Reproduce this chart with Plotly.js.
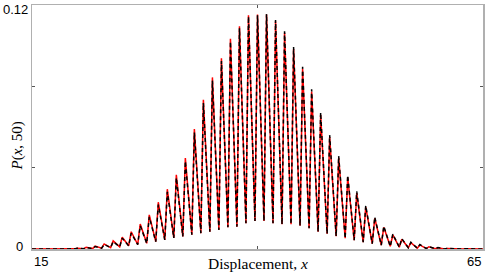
<!DOCTYPE html>
<html>
<head>
<meta charset="utf-8">
<script src="https://cdn.plot.ly/plotly-3.0.1.min.js"></script>
<style>html,body{margin:0;padding:0;background:#fff;}#chart{width:497px;height:272px;}</style>
</head>
<body>
<div id="chart"></div>
<script>
// integer displacement sites
var sites = [15,16,17,18,19,20,21,22,23,24,25,26,27,28,29,30,31,32,33,34,35,36,37,38,39,40,
             41,42,43,44,45,46,47,48,49,50,51,52,53,54,55,56,57,58,59,60,61,62,63,64,65];
// peak values at each site (red, solid)
var redPeaks = [0.00002,0.00003,0.00005,0.0001,0.0002,0.0004,0.0008,0.0014,0.0025,0.0040,
                0.0058,0.0085,0.0123,0.0168,0.0230,0.0294,0.0365,0.0447,0.0590,0.0734,
                0.0844,0.0938,0.1034,0.1096,0.1150,0.1153,0.1153,0.1120,0.1063,0.0984,
                0.0886,0.0775,0.0660,0.0550,0.0447,0.0353,0.0275,0.0206,0.0151,0.0107,
                0.0069,0.0048,0.0031,0.0020,0.0011,0.0006,0.0003,0.00015,0.00008,0.00004,0.00002];
// valley values following each site (red)
var redValleys = [0.00001,0.00001,0.00002,0.00004,0.00007,0.0001,0.0002,0.0004,0.0007,0.0011,
                  0.0016,0.0022,0.0028,0.0036,0.0045,0.0054,0.0062,0.0070,0.0078,0.0085,
                  0.0094,0.0107,0.0110,0.0127,0.0138,0.0138,0.0127,0.0122,0.0122,0.0115,
                  0.0102,0.0085,0.0075,0.0063,0.0053,0.0043,0.0034,0.0026,0.0019,0.0013,
                  0.0009,0.0006,0.0004,0.0002,0.0001,0.00006,0.00003,0.00002,0.00001,0.00001];
// black dashed comparison
var blackPeaks = [0.00002,0.00003,0.00005,0.0001,0.0002,0.0004,0.0007,0.0012,0.0022,0.0036,
                  0.0053,0.0078,0.0114,0.0158,0.0218,0.0281,0.0350,0.0432,0.0573,0.0718,
                  0.0828,0.0924,0.1020,0.1086,0.1143,0.1150,0.1156,0.1126,0.1071,0.0993,
                  0.0896,0.0786,0.0671,0.0561,0.0457,0.0362,0.0283,0.0213,0.0157,0.0112,
                  0.0073,0.0051,0.0033,0.0022,0.0012,0.0007,0.0003,0.00017,0.00009,0.00004,0.00002];
var blackValleys = redValleys;
var valleyOffset = 0.72;

function series(peaks, valleys) {
  var xs = [], ys = [];
  for (var i = 0; i < sites.length; i++) {
    xs.push(sites[i]); ys.push(peaks[i]);
    if (i < valleys.length) { xs.push(sites[i] + valleyOffset); ys.push(valleys[i]); }
  }
  return {x: xs, y: ys};
}
var r = series(redPeaks, redValleys);
var b = series(blackPeaks, blackValleys);

var traces = [
  {x: r.x, y: r.y, mode: 'lines', line: {color: '#ff0000', width: 1.5}, hoverinfo: 'skip'},
  {x: b.x, y: b.y, mode: 'lines', line: {color: '#000000', width: 1.5, dash: '4px,3px'}, hoverinfo: 'skip'}
];

var axisCommon = {
  showgrid: false, zeroline: false, showline: true, mirror: 'ticks',
  linecolor: '#b0b0b0', linewidth: 1.5, ticks: 'inside', ticklen: 3, tickwidth: 1,
  tickcolor: '#555', showticklabels: false
};
var layout = {
  width: 497, height: 272,
  margin: {l: 32, r: 14, t: 5, b: 23, pad: 0},
  paper_bgcolor: '#fff', plot_bgcolor: '#fff',
  showlegend: false,
  xaxis: Object.assign({}, axisCommon, {range: [15, 65], tickvals: [15, 40, 65]}),
  yaxis: Object.assign({}, axisCommon, {range: [0, 0.12], tickvals: [0, 0.04, 0.08, 0.12]}),
  annotations: [
    {text: '15', xref: 'x', yref: 'paper', x: 15, y: 0, xanchor: 'left', yanchor: 'top', yshift: -3, showarrow: false,
     font: {family: 'Liberation Sans, Arial, sans-serif', size: 13, color: '#000'}},
    {text: '65', xref: 'x', yref: 'paper', x: 65, y: 0, xanchor: 'right', yanchor: 'top', yshift: -3, showarrow: false,
     font: {family: 'Liberation Sans, Arial, sans-serif', size: 13, color: '#000'}},
    {text: '0', xref: 'paper', yref: 'y', x: 0, y: 0, xanchor: 'right', yanchor: 'middle', xshift: -7, yshift: 3, showarrow: false,
     font: {family: 'Liberation Sans, Arial, sans-serif', size: 13, color: '#000'}},
    {text: '0.12', xref: 'paper', yref: 'y', x: 0, y: 0.12, xanchor: 'right', yanchor: 'middle', xshift: -2, yshift: -4, showarrow: false,
     font: {family: 'Liberation Sans, Arial, sans-serif', size: 13, color: '#000'}},
    {text: 'Displacement, <i>x</i>', xref: 'paper', yref: 'paper', x: 0.5, y: -0.06, xanchor: 'center', yanchor: 'middle', showarrow: false,
     font: {family: 'Liberation Serif, DejaVu Serif, serif', size: 15.5, color: '#000'}},
    {text: '<i>P</i>(<i>x</i>, 50)', xref: 'paper', yref: 'paper', x: 0, y: 0.42, xanchor: 'center', yanchor: 'middle', xshift: -14, textangle: -90, showarrow: false,
     font: {family: 'Liberation Serif, DejaVu Serif, serif', size: 15, color: '#000'}}
  ]
};
Plotly.newPlot('chart', traces, layout, {displayModeBar: false, staticPlot: true});
</script>
</body>
</html>
